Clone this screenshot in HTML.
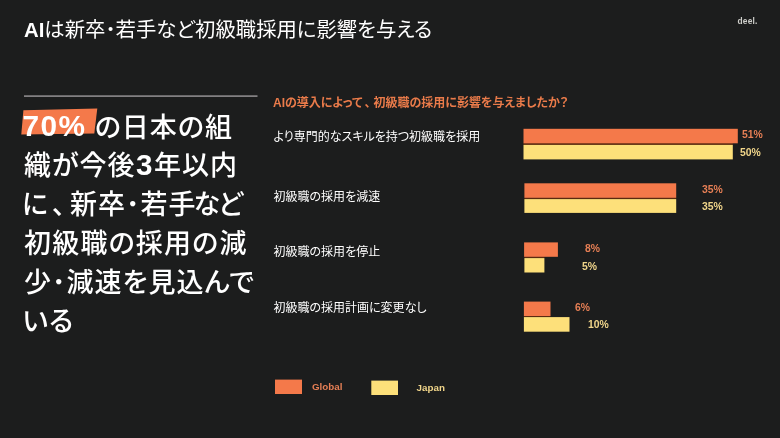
<!DOCTYPE html>
<html lang="ja">
<head>
<meta charset="utf-8">
<title>AIは新卒･若手など初級職採用に影響を与える</title>
<style>
html,body{margin:0;padding:0;background:#1c1d1d;}
body{width:780px;height:438px;background:#1c1d1d;position:relative;overflow:hidden;
 font-family:"Liberation Sans","Noto Sans CJK JP",sans-serif;color:#fff;
 font-feature-settings:"palt" 1;}
.abs{position:absolute;white-space:nowrap;}
.title{left:24px;top:15.2px;font-size:20.35px;line-height:30px;color:#fff;}
.title b{font-weight:700;}
.logo{left:737.6px;top:15.4px;font-size:8.4px;line-height:12px;color:#cfcfcb;font-weight:700;letter-spacing:0.15px;}
.hl{position:absolute;left:0;top:0;}
.big{left:24px;top:108.6px;font-size:27px;letter-spacing:1px;line-height:38.8px;color:#fff;font-weight:500;}
.big b{font-weight:700;position:relative;top:-1.3px;line-height:0;}
.big b.p{font-size:29.8px;letter-spacing:1.4px;margin-left:-1.5px;top:-0.2px;}
.big b.n{font-size:29.6px;letter-spacing:1.5px;margin-left:0.5px;top:-0.4px;}
.q{left:273px;top:93.7px;font-size:12px;line-height:18px;font-weight:700;color:#ea7b4a;}
.row{left:273.5px;font-size:12px;line-height:18px;color:#fff;}
.val{font-size:10px;line-height:12px;font-weight:700;transform:scaleX(1.04);transform-origin:0 50%;}
.vo{color:#e67f55;}
.vy{color:#f0d58a;}
.leg{font-size:9.8px;line-height:12px;font-weight:700;}
</style>
</head>
<body>
<div class="abs title"><b>AI</b>は新卒<b>･</b>若手など初級職採用に影響を与える</div>
<div class="abs logo">deel.</div>
<svg class="hl" width="780" height="438" viewBox="0 0 780 438"><rect x="24" y="95.4" width="233.5" height="1.4" fill="#9c9a9c"/><rect x="523.5" y="143" width="209.3" height="2.2" fill="#5a2a10"/>
<rect x="524.4" y="197.5" width="151.8" height="1.8" fill="#5a2a10"/>
<rect x="524.4" y="256.5" width="20.0" height="1.8" fill="#5a2a10"/>
<rect x="523.9" y="315.7" width="26.6" height="1.6" fill="#5a2a10"/>
<rect x="523.5" y="128.8" width="214.3" height="14.5" fill="#f4794a"/>
<rect x="523.5" y="144.9" width="209.3" height="14.5" fill="#fde07a"/>
<rect x="524.4" y="183.3" width="151.8" height="14.5" fill="#f4794a"/>
<rect x="524.4" y="199.1" width="151.8" height="13.8" fill="#fde07a"/>
<rect x="524.1" y="242.4" width="33.8" height="14.4" fill="#f4794a"/>
<rect x="524.4" y="258.1" width="20.0" height="14.4" fill="#fde07a"/>
<rect x="523.9" y="301.6" width="26.6" height="14.4" fill="#f4794a"/>
<rect x="523.9" y="317.1" width="45.6" height="14.6" fill="#fde07a"/>
<rect x="275" y="379.6" width="27" height="14.4" fill="#f4794a"/>
<rect x="371.3" y="380.6" width="26.7" height="14.4" fill="#fde07a"/>
<polygon points="23.4,110.3 97.3,108.5 94.3,133.6 21.3,134.4" fill="#f4794a"/></svg>
<div class="abs big"><b class="p">70%</b> の日本の組<br>織が今後<b class="n">3</b>年以内<br><span style="margin-left:-2px">に</span><span style="margin-left:3px;margin-right:3.5px">、</span>新卒<span style="font-weight:700">･</span>若<span style="letter-spacing:-2px">手な</span>ど<br><span style="letter-spacing:1.2px">初級職の採用の減</span><br>少<span style="font-weight:700">･</span>減速を見込んで<br><span style="margin-left:-1.5px">い</span>る</div>

<div class="abs q">AIの導入によって<span style="margin-left:2px;margin-right:3px">、</span>初級職の採用に影響を与えましたか？</div>
<div class="abs row" style="top:128px">より専門的なスキルを持つ初級職を採用</div>
<div class="abs row" style="top:188px">初級職の採用を減速</div>
<div class="abs row" style="top:243.2px">初級職の採用を停止</div>
<div class="abs row" style="top:299.3px">初級職の採用計画に変更なし</div>


<div class="abs val vo" style="left:742.3px;top:129.1px">51%</div>
<div class="abs val vy" style="left:740.2px;top:146.7px">50%</div>
<div class="abs val vo" style="left:702px;top:184px">35%</div>
<div class="abs val vy" style="left:702px;top:201.2px">35%</div>
<div class="abs val vo" style="left:584.7px;top:243.2px">8%</div>
<div class="abs val vy" style="left:581.6px;top:260.5px">5%</div>
<div class="abs val vo" style="left:574.5px;top:302.4px">6%</div>
<div class="abs val vy" style="left:588px;top:319.2px">10%</div>

<div class="abs leg vo" style="left:312px;top:381.3px">Global</div>
<div class="abs leg vy" style="left:416.6px;top:382.4px">Japan</div>
</body>
</html>
